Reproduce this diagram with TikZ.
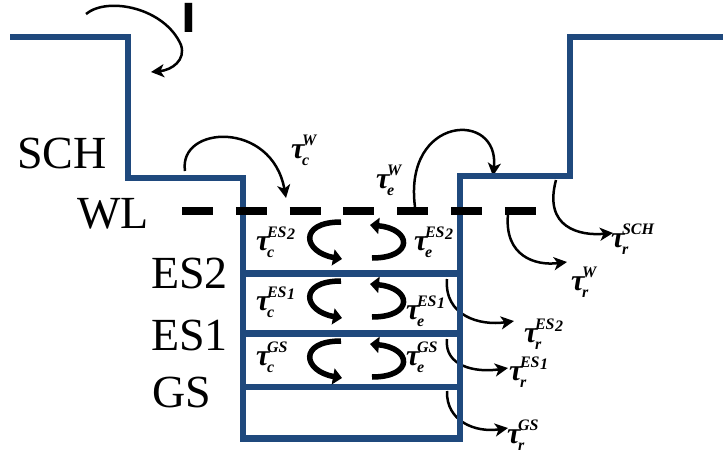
\documentclass[tikz,border=0pt]{standalone}
\usepackage{fontspec}
\setmainfont{Liberation Serif}
\newfontfamily\sansI{DejaVu Sans}
\usetikzlibrary{arrows.meta}
\definecolor{wellblue}{RGB}{31,73,125}
\newcommand\taulab[2]{{\bfseries\itshape\fontsize{30}{30}\selectfont τ\kern-2.5pt\fontsize{16}{16}\selectfont\rlap{\raisebox{13pt}{#2}}\raisebox{-7.5pt}{#1}}}
\newcommand\esn[1]{ES\kern0.5pt\raisebox{-2.5pt}{#1}}
\begin{document}
\begin{tikzpicture}[x=1pt,y=-1pt,
  wellline/.style={line width=6.5pt, draw=wellblue, line join=miter},
  proc/.style={line width=2.5pt, -{Stealth[length=13pt,width=13pt,inset=3.5pt]}},
  loopar/.style={line width=5.5pt, -{Triangle[length=9pt,width=16pt]}},
  big/.style={font=\fontsize{46}{46}\selectfont, inner sep=0pt, anchor=base west},
  tlab/.style={inner sep=0pt, anchor=base west}]
\useasboundingbox (0,0) rectangle (723,455);

% transition arrows (behind the well)
\coordinate (iS) at (86,14);   \coordinate (iE) at (151,72);
\draw[proc] (iS) .. controls (108,-4) and (165,8) .. (181,45) .. controls (186,60) and (172,70) .. (iE);
\coordinate (cwS) at (185,171); \coordinate (cwE) at (286,198);
\draw[proc] (cwS) .. controls (178,125) and (272,120) .. (cwE);
\coordinate (ewS) at (415,207); \coordinate (ewE) at (493,176);
\draw[proc] (ewS) .. controls (403,115) and (500,110) .. (ewE);
\coordinate (rsS) at (556,180); \coordinate (rsE) at (613,233);
\draw[proc] (rsS) .. controls (543,228) and (580,236) .. (rsE);
\coordinate (rwS) at (508,214); \coordinate (rwE) at (567,262);
\draw[proc] (rwS) .. controls (504,256) and (535,266) .. (rwE);
\coordinate (r2S) at (447,279); \coordinate (r2E) at (514,321);
\draw[proc] (r2S) .. controls (444,316) and (480,326) .. (r2E);
\coordinate (r1S) at (447,339); \coordinate (r1E) at (508,368);
\draw[proc] (r1S) .. controls (444,366) and (475,373) .. (r1E);
\coordinate (r0S) at (447,391); \coordinate (r0E) at (508,428);
\draw[proc] (r0S) .. controls (446,421) and (475,433) .. (r0E);

% well outline
\draw[wellline] (10,37) -- (128,37) -- (128,178) -- (243,178) -- (243,438.5)
  -- (460,438.5) -- (460,176) -- (570,176) -- (570,37) -- (723,37);
\draw[wellline] (243,273.5) -- (460,273.5);
\draw[wellline] (243,333.5) -- (460,333.5);
\draw[wellline] (243,387) -- (460,387);

% wetting layer
\coordinate (wlL) at (182,211); \coordinate (wlR) at (537,211);
\draw[line width=8pt, dash pattern=on 31pt off 22.8pt] (wlL) -- (wlR);

% capture / escape loops
\foreach \dy/\nm in {0/a,59/b,119/c}{
  \begin{scope}[shift={(0,\dy)}]
    \coordinate (cl\nm S) at (341,222); \coordinate (cl\nm E) at (342,259);
    \draw[loopar] (cl\nm S) .. controls (298,222) and (303,252) .. (cl\nm E);
    \coordinate (er\nm S) at (372,258); \coordinate (er\nm E) at (370,225);
    \draw[loopar] (er\nm S) .. controls (414,258) and (412,229) .. (er\nm E);
  \end{scope}
}

% level labels
\node[inner sep=0pt, anchor=base, font=\sansI\bfseries\fontsize{40}{40}\selectfont] (I) at (188.5,32) {I};
\node[big] (sch) at (17,168) {SCH};
\node[big] (wl) at (77,228) {WL};
\node[big] (es2) at (151,288) {ES2};
\node[big] (es1) at (151,350) {ES1};
\node[big] (gs) at (152,407) {GS};

% time constants
\node[tlab] (tcw) at (291,158) {\taulab{c}{W}};
\node[tlab] (tew) at (376,188) {\taulab{e}{W}};
\node[tlab] (tc2) at (256,250) {\taulab{c}{\esn{2}}};
\node[tlab] (te2) at (414,250) {\taulab{e}{\esn{2}}};
\node[tlab] (tc1) at (256,310) {\taulab{c}{\esn{1}}};
\node[tlab] (te1) at (406,319) {\taulab{e}{\esn{1}}};
\node[tlab] (tcg) at (256,365) {\taulab{c}{GS}};
\node[tlab] (teg) at (406,365) {\taulab{e}{GS}};
\node[tlab] (trs) at (611,247) {\taulab{r}{SCH}};
\node[tlab] (trw) at (571,290) {\taulab{r}{W}};
\node[tlab] (tr2) at (524,342) {\taulab{r}{\esn{2}}};
\node[tlab] (tr1) at (509,380) {\taulab{r}{\esn{1}}};
\node[tlab] (trg) at (507,443) {\taulab{r}{GS}};
\end{tikzpicture}
\end{document}
